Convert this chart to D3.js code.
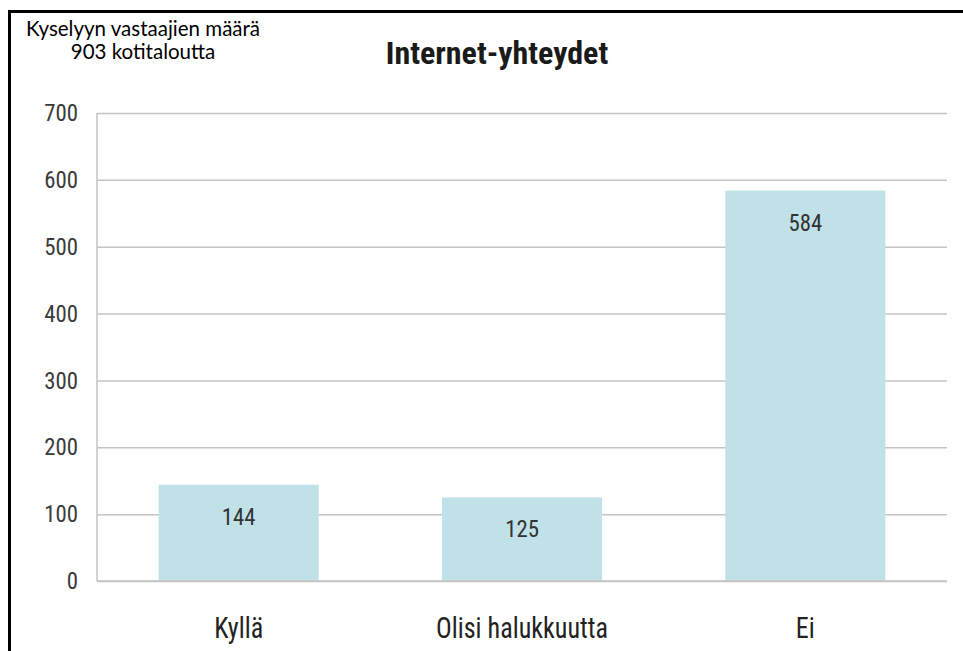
<!DOCTYPE html>
<html>
<head>
<meta charset="utf-8">
<script src="https://cdn.jsdelivr.net/npm/d3@7/dist/d3.min.js"></script>
<style>
  html, body { margin: 0; padding: 0; background: #fff; }
  svg { display: block; }
</style>
</head>
<body>
<svg id="chart" width="963" height="651"></svg>
<script>
const categories = ["Kyllä", "Olisi halukkuutta", "Ei"];
const values = [144, 125, 584];
const yTicks = [0, 100, 200, 300, 400, 500, 600, 700];
const titleText = "Internet-yhteydet";
const noteLines = ["Kyselyyn vastaajien määrä", "903 kotitaloutta"];

const svg = d3.select("#chart");
const W = 963, H = 651;
const m = { left: 97, right: 16, top: 113, bottom: 70 };
const narrow = "'Liberation Sans Narrow', 'Roboto Condensed', 'Arial Narrow', 'Liberation Sans', Arial, sans-serif";

svg.append("rect").attr("width", W).attr("height", H).attr("fill", "#fff");

const x = d3.scaleBand().domain(categories)
  .range([m.left, W - m.right]).paddingInner(0.435).paddingOuter(0.2175);
const y = d3.scaleLinear().domain([0, 700]).range([H - m.bottom, m.top]);

// gridlines
const grid = svg.append("g")
  .attr("transform", `translate(${m.left},0)`)
  .call(d3.axisLeft(y).tickValues(yTicks).tickSize(-(W - m.right - m.left)).tickFormat(""));
grid.select(".domain").remove();
grid.selectAll("line").attr("stroke", "#c4c4c4").attr("stroke-width", 1.5);

// y-axis line
svg.append("line")
  .attr("x1", m.left).attr("x2", m.left)
  .attr("y1", y(700)).attr("y2", y(0))
  .attr("stroke", "#c4c4c4").attr("stroke-width", 1.5);

// y tick labels
const yAxis = svg.append("g")
  .attr("transform", `translate(${m.left - 19},0)`)
  .call(d3.axisLeft(y).tickValues(yTicks).tickSize(0).tickPadding(0));
yAxis.select(".domain").remove();
yAxis.selectAll("text")
  .attr("font-family", narrow).attr("font-size", 24).attr("fill", "#3a3a3a")
  .attr("transform", "scale(0.95,1)");

// bars
svg.append("g").selectAll("rect")
  .data(values).join("rect")
  .attr("x", (d, i) => x(categories[i]))
  .attr("width", x.bandwidth())
  .attr("y", d => y(d))
  .attr("height", d => y(0) - y(d))
  .attr("fill", "#bfe1e7");

// value labels
svg.append("g").selectAll("text")
  .data(values).join("text")
  .attr("transform", (d, i) => `translate(${x(categories[i]) + x.bandwidth() / 2},${y(d) + 40}) scale(0.95,1)`)
  .attr("text-anchor", "middle")
  .attr("font-family", narrow).attr("font-size", 24).attr("fill", "#333")
  .text(d => d);

// baseline redraw
svg.append("line")
  .attr("x1", m.left).attr("x2", W - m.right)
  .attr("y1", y(0)).attr("y2", y(0))
  .attr("stroke", "#c4c4c4").attr("stroke-width", 1.5);

// x category labels
const xAxis = svg.append("g")
  .attr("transform", `translate(0,${y(0) + 57})`)
  .call(d3.axisBottom(x).tickSize(0).tickPadding(0));
xAxis.select(".domain").remove();
xAxis.selectAll("text")
  .attr("dy", 0).attr("y", 0)
  .attr("transform", "scale(0.9,1)")
  .attr("font-family", narrow).attr("font-size", 29).attr("fill", "#222");

// title
svg.append("text")
  .attr("x", 497).attr("y", 64)
  .attr("text-anchor", "middle")
  .attr("font-family", narrow).attr("font-weight", "bold")
  .attr("font-size", 32).attr("fill", "#1a1a1a")
  .text(titleText);

// note
svg.append("g").selectAll("text")
  .data(noteLines).join("text")
  .attr("x", 143).attr("y", (d, i) => 36 + i * 23)
  .attr("text-anchor", "middle")
  .attr("font-family", "Lato, 'Open Sans', sans-serif")
  .attr("font-size", 20.5).attr("fill", "#000")
  .text(d => d);

// frame (top and left edges)
svg.append("path")
  .attr("d", `M9.5,${H} L9.5,11.5 L${W},11.5`)
  .attr("fill", "none").attr("stroke", "#000").attr("stroke-width", 3);
</script>
</body>
</html>
